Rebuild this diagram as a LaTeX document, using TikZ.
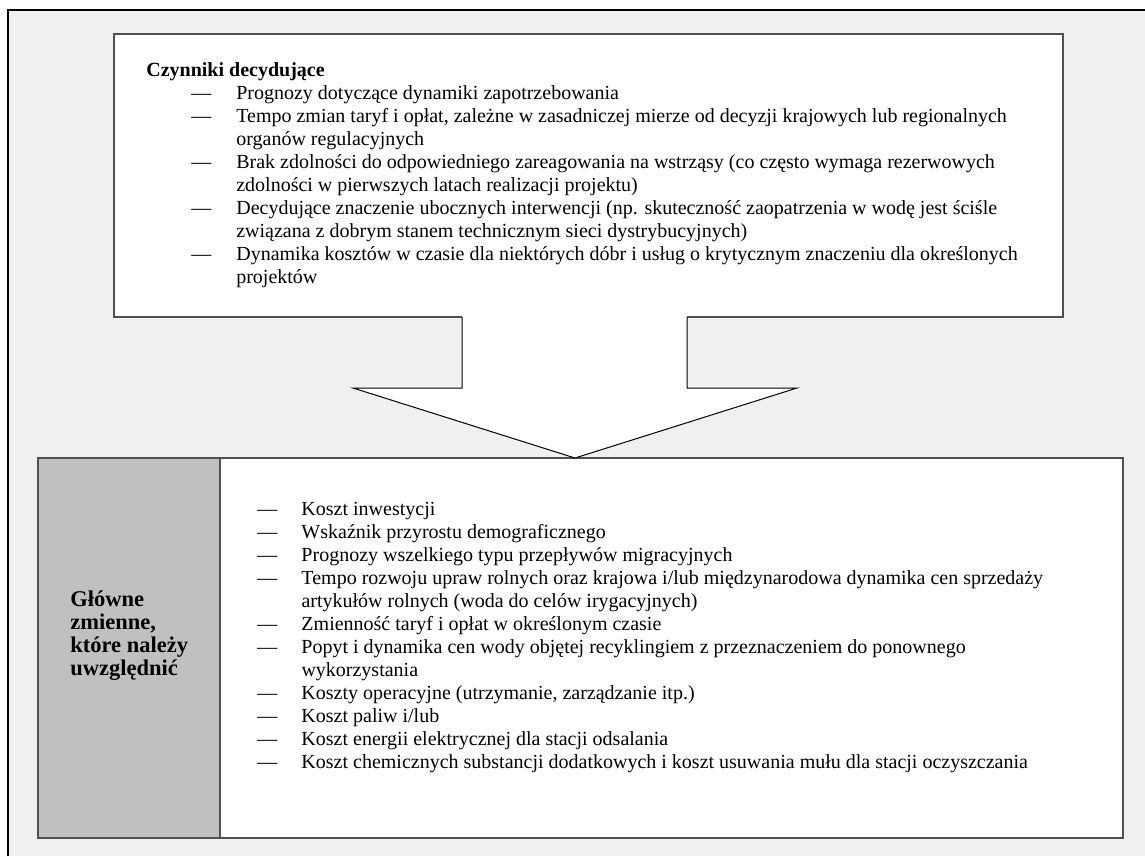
\documentclass[tikz,border=0pt]{standalone}
\usepackage{fontspec}
\setmainfont{Liberation Serif}
\usetikzlibrary{fit}
\definecolor{pagebg}{RGB}{240,240,240}
\definecolor{colgray}{RGB}{192,192,192}
\definecolor{edge}{RGB}{80,80,80}
\begin{document}
\begin{tikzpicture}[x=0.6pt,y=-0.6pt,
  panel/.style={draw=edge, line width=0.8pt, fill=white, inner sep=0pt},
  labelpanel/.style={panel, fill=colgray},
  body/.style={inner sep=0pt, anchor=base west, font=\fontsize{12}{13.8}\selectfont},
  heading/.style={body, font=\fontsize{12}{13.8}\selectfont\bfseries},
  sidelabel/.style={body, font=\fontsize{13.5}{13.8}\selectfont\bfseries},
  bigarrow/.style={draw=black, line width=0.6pt, line join=miter}]
\useasboundingbox (0,0) rectangle (1145,856);
% page background with its frame on the top and left
\fill[white] (0,0) rectangle (1145,856);
\fill[pagebg] (8,10) rectangle (1145,856);
\draw[line width=1.7pt] (8,856) -- (8,10) -- (1145,10);

% upper panel: deciding factors
\coordinate (tA) at (114,34);
\coordinate (tB) at (1063,317);
\node[panel, fit=(tA)(tB)] (topbox) {};

% lower panel with its grey label column
\coordinate (bA) at (38,458);
\coordinate (bB) at (1123,838);
\coordinate (cB) at (220,838);
\node[panel, fit=(bA)(bB)] (botbox) {};
\node[labelpanel, fit=(bA)(cB)] (labelcol) {};

% block arrow from the upper panel down to the lower one
\fill[white] (462,315) -- (462,388) -- (353,388) -- (575,458) -- (797,388) -- (687,388) -- (687,315) -- cycle;
\draw[bigarrow] (462,317) -- (462,388) -- (353,388) -- (575,458) -- (797,388) -- (687,388) -- (687,317);

% texts of the upper panel
\node[heading] (head) at (146,76) {Czynniki decydujące};
\node[body] (factors) at (191,99) {\begin{tabular}[t]{@{}p{27pt}@{}l@{}}
— & Prognozy dotyczące dynamiki zapotrzebowania\\
— & Tempo zmian taryf i opłat, zależne w zasadniczej mierze od decyzji krajowych lub regionalnych\\
  & organów regulacyjnych\\
— & Brak zdolności do odpowiedniego zareagowania na wstrząsy (co często wymaga rezerwowych\\
  & zdolności w pierwszych latach realizacji projektu)\\
— & Decydujące znaczenie ubocznych interwencji (np. skuteczność zaopatrzenia w wodę jest ściśle\\
  & związana z dobrym stanem technicznym sieci dystrybucyjnych)\\
— & Dynamika kosztów w czasie dla niektórych dóbr i usług o krytycznym znaczeniu dla określonych\\
  & projektów
\end{tabular}};

% texts of the lower panel
\node[sidelabel] (varlabel) at (70,606) {\begin{tabular}[t]{@{}l@{}}
Główne\\ zmienne,\\ które należy\\ uwzględnić
\end{tabular}};
\node[body] (variables) at (257,515) {\begin{tabular}[t]{@{}p{26.5pt}@{}l@{}}
— & Koszt inwestycji\\
— & Wskaźnik przyrostu demograficznego\\
— & Prognozy wszelkiego typu przepływów migracyjnych\\
— & Tempo rozwoju upraw rolnych oraz krajowa i/lub międzynarodowa dynamika cen sprzedaży\\
  & artykułów rolnych (woda do celów irygacyjnych)\\
— & Zmienność taryf i opłat w określonym czasie\\
— & Popyt i dynamika cen wody objętej recyklingiem z przeznaczeniem do ponownego\\
  & wykorzystania\\
— & Koszty operacyjne (utrzymanie, zarządzanie itp.)\\
— & Koszt paliw i/lub\\
— & Koszt energii elektrycznej dla stacji odsalania\\
— & Koszt chemicznych substancji dodatkowych i koszt usuwania mułu dla stacji oczyszczania
\end{tabular}};
\end{tikzpicture}
\end{document}
